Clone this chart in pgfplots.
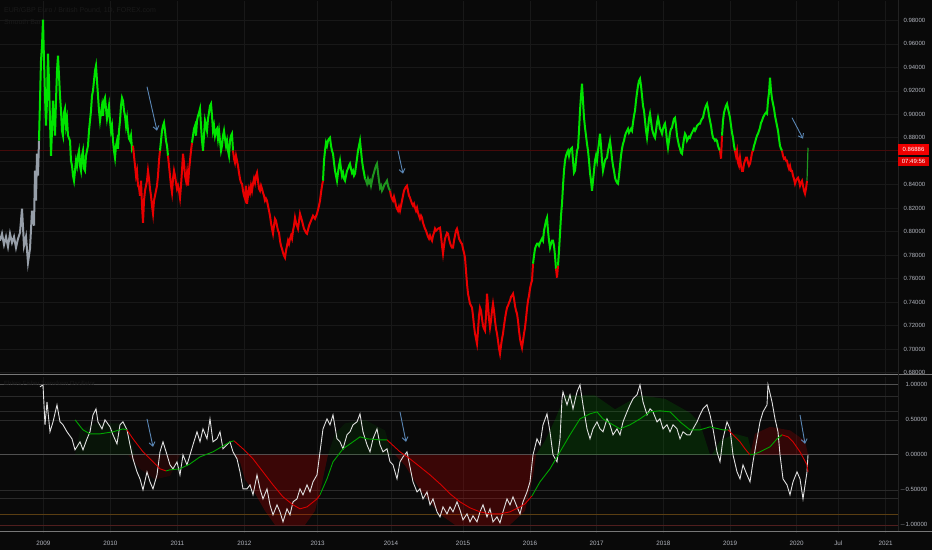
\documentclass[border=0pt]{standalone}
\usepackage{pgfplots}
\pgfplotsset{compat=1.18}
\usetikzlibrary{arrows.meta}
\usepackage{fontspec}
\setmainfont{Liberation Sans}
\definecolor{bgc}{RGB}{9,9,9}
\definecolor{gridc}{RGB}{24,24,24}
\definecolor{lab}{RGB}{178,181,190}
\definecolor{pgreen}{RGB}{0,228,0}
\definecolor{dgreen}{RGB}{30,150,30}
\definecolor{pred}{RGB}{232,0,0}
\definecolor{pgray}{RGB}{150,158,168}
\definecolor{arrowc}{RGB}{90,134,181}
\definecolor{sepc}{RGB}{120,120,120}
\definecolor{lvl}{RGB}{42,42,42}
\definecolor{lvl0}{RGB}{80,80,80}
\definecolor{lvlo}{RGB}{90,62,18}
\definecolor{lvlr}{RGB}{80,30,30}
\definecolor{titc}{RGB}{26,26,26}
\definecolor{pricel}{RGB}{70,10,10}
\definecolor{oscw}{RGB}{225,225,225}
\definecolor{mag}{RGB}{0,165,0}
\definecolor{mar}{RGB}{215,0,0}
\definecolor{scalebd}{RGB}{34,34,34}
\definecolor{boxr1}{RGB}{240,0,0}
\definecolor{boxr2}{RGB}{225,0,0}
\begin{document}
\begin{tikzpicture}[x=1pt,y=1pt]
\fill[bgc] (0,0) rectangle (932,550);
% ===== top panel =====
\begin{axis}[
  at={(0,149.8)}, anchor=south west,
  width=898pt, height=373.5pt, scale only axis,
  xmin=0, xmax=898, ymin=0.6785, ymax=0.9968,
  axis line style={draw=none}, tick style={draw=none},
  xtick={43.3,110.3,177.3,244.3,317.7,391,463,530,596.7,663.3,730,796.7,838.3,885.7},
  xticklabels={},
  ytick={0.68,0.70,0.72,0.74,0.76,0.78,0.80,0.82,0.84,0.86,0.88,0.90,0.92,0.94,0.96,0.98},
  yticklabels={0.68000,0.70000,0.72000,0.74000,0.76000,0.78000,0.80000,0.82000,0.84000,0.86000,0.88000,0.90000,0.92000,0.94000,0.96000,0.98000},
  yticklabel pos=right,
  yticklabel style={font=\fontsize{6}{7}\selectfont, text=lab, anchor=west, xshift=2pt},
  grid=major, grid style={gridc, line width=0.6pt},
]
\draw[pricel, line width=0.7pt] (axis cs:0,0.8689) -- (axis cs:898,0.8689);
\addplot[pgray, line width=2pt] coordinates {(0,0.7923)(2,0.7983)(4,0.7889)(6,0.7957)(8,0.7872)(10,0.7983)(12,0.7906)(14,0.7957)(16,0.7863)(18,0.7940)(20,0.7991)(22,0.8196)(24,0.7880)(26,0.7957)(28,0.7736)(30,0.7855)(32,0.8179)(34,0.8051)(35,0.8519)(36,0.8264)(37,0.8664)(38,0.8477)(39,0.8775)};
\addplot[pgreen, line width=2pt] coordinates {(39,0.8775)(40,0.9116)(41,0.9457)(42,0.9584)(43,0.9806)(44,0.9457)(45,0.9158)(46,0.8903)(47,0.9116)(48,0.9516)(49,0.9286)(50,0.8945)(51,0.8647)(52,0.8860)(53,0.9116)(54,0.8988)(55,0.8818)(56,0.9116)(57,0.9371)(58,0.9499)(59,0.9329)(60,0.9158)(61,0.9031)(62,0.8860)(63,0.8818)(64,0.9014)(65,0.9048)(66,0.8903)(67,0.8962)(68,0.8818)(70,0.8775)(71,0.8605)(72,0.8562)(73,0.8477)(74,0.8434)(75,0.8519)(76,0.8605)(77,0.8562)(78,0.8647)(79,0.8690)(80,0.8562)(81,0.8519)(82,0.8647)(83,0.8690)(84,0.8536)(85,0.8519)(86,0.8647)(88,0.8732)(89,0.8860)(90,0.8945)(91,0.9031)(92,0.9158)(93,0.9201)(94,0.9286)(95,0.9371)(96,0.9414)(97,0.9286)(98,0.9158)(99,0.9031)(100,0.8945)(101,0.9014)(102,0.9073)(103,0.8988)(104,0.9116)(105,0.9141)(106,0.9048)(107,0.8962)(108,0.9014)(109,0.9073)(110,0.8945)(111,0.8860)(112,0.8903)(113,0.8775)(114,0.8690)(115,0.8630)(116,0.8732)(117,0.8775)(118,0.8707)(119,0.8860)(120,0.8945)(121,0.9073)(122,0.9141)(123,0.9116)(124,0.9031)(125,0.8988)(126,0.8903)(127,0.8962)(128,0.8860)(129,0.8792)(130,0.8775)(131,0.8818)(132,0.8707)(133,0.8732)};
\addplot[pred, line width=2pt] coordinates {(133,0.8732)(134,0.8647)(135,0.8562)(136,0.8477)(137,0.8519)(138,0.8392)(139,0.8375)(140,0.8306)(141,0.8434)(142,0.8221)(143,0.8076)(144,0.8264)(145,0.8349)(146,0.8392)(147,0.8434)(148,0.8519)(149,0.8451)(150,0.8366)(151,0.8306)(152,0.8221)(153,0.8153)(154,0.8264)(155,0.8306)(156,0.8349)(157,0.8392)(158,0.8477)(159,0.8605)(160,0.8690)};
\addplot[pgreen, line width=2pt] coordinates {(160,0.8690)(161,0.8775)(162,0.8860)(163,0.8903)(164,0.8928)(165,0.8860)(166,0.8775)(167,0.8732)(168,0.8647)};
\addplot[pred, line width=2pt] coordinates {(168,0.8647)(169,0.8562)(170,0.8477)(171,0.8392)(172,0.8332)(173,0.8451)(174,0.8519)(175,0.8477)(176,0.8417)(177,0.8366)(178,0.8392)(179,0.8349)(180,0.8289)(181,0.8392)(182,0.8519)(183,0.8664)(184,0.8588)(185,0.8477)(186,0.8434)(187,0.8502)(188,0.8392)(189,0.8519)(190,0.8605)(191,0.8690)(192,0.8758)};
\addplot[pgreen, line width=2pt] coordinates {(192,0.8758)(193,0.8818)(194,0.8877)(195,0.8903)(196,0.8818)(197,0.8945)(198,0.8988)(199,0.9014)(200,0.9048)(201,0.8903)(202,0.8775)(203,0.8690)(204,0.8818)(205,0.8945)(206,0.8903)(207,0.8860)(208,0.8962)(209,0.9014)(210,0.9073)(211,0.9090)(212,0.8988)(213,0.8860)(214,0.8903)(215,0.8818)(216,0.8860)(217,0.8877)(218,0.8792)(219,0.8860)(220,0.8775)(221,0.8690)(222,0.8732)(223,0.8818)(224,0.8860)(225,0.8792)(226,0.8732)(227,0.8775)(228,0.8690)(229,0.8647)(230,0.8775)(231,0.8818)(232,0.8835)(233,0.8690)};
\addplot[pred, line width=2pt] coordinates {(233,0.8690)(234,0.8622)(235,0.8588)(236,0.8647)(237,0.8605)(238,0.8562)(239,0.8502)(240,0.8451)(241,0.8417)(242,0.8409)(243,0.8349)(244,0.8306)(245,0.8281)(246,0.8392)(247,0.8238)(248,0.8306)(249,0.8366)(250,0.8332)(251,0.8392)(252,0.8349)(253,0.8409)(254,0.8451)(255,0.8417)(256,0.8477)(257,0.8502)(258,0.8434)(259,0.8366)(260,0.8349)(261,0.8392)(262,0.8366)(263,0.8332)(264,0.8306)(265,0.8264)(266,0.8281)(267,0.8264)(268,0.8221)(269,0.8179)(270,0.8136)(271,0.8076)(272,0.8025)(273,0.7983)(274,0.8051)(275,0.8110)(276,0.8093)(277,0.8051)(278,0.8008)(279,0.7991)(280,0.7923)(281,0.7880)(282,0.7855)(283,0.7821)(284,0.7795)(285,0.7778)(286,0.7838)(287,0.7880)(288,0.7923)(289,0.7897)(290,0.7940)(291,0.7966)(292,0.7940)(293,0.8008)(294,0.8051)(295,0.8119)(296,0.8076)(298,0.8025)(300,0.8153)(302,0.8093)(304,0.8025)(306,0.7991)(307,0.7983)(309,0.8051)(311,0.8093)(313,0.8136)(315,0.8110)(317,0.8153)(319,0.8221)(320,0.8264)(321,0.8332)(322,0.8392)(323,0.8434)};
\addplot[pgreen, line width=2pt] coordinates {(323,0.8434)(324,0.8605)(325,0.8690)(326,0.8758)(327,0.8732)(328,0.8775)(329,0.8792)(330,0.8801)(331,0.8732)(332,0.8690)(333,0.8664)(334,0.8588)(335,0.8519)(336,0.8477)(337,0.8434)(338,0.8502)(339,0.8562)(340,0.8605)(341,0.8536)(342,0.8477)(343,0.8502)(344,0.8451)(345,0.8434)(346,0.8477)(347,0.8519)(348,0.8536)(349,0.8562)(350,0.8579)(351,0.8536)(352,0.8502)(353,0.8519)(354,0.8477)(355,0.8494)(356,0.8562)(357,0.8622)(358,0.8690)(359,0.8732)(360,0.8775)(361,0.8690)(362,0.8605)(363,0.8545)(364,0.8502)(365,0.8451)};
\addplot[dgreen, line width=2pt] coordinates {(365,0.8451)(366,0.8434)(367,0.8409)(368,0.8451)(369,0.8417)(370,0.8434)(371,0.8392)(372,0.8434)(373,0.8477)(374,0.8502)(375,0.8536)(376,0.8562)(377,0.8579)(378,0.8502)(379,0.8434)(380,0.8375)(381,0.8392)(382,0.8349)(383,0.8366)(384,0.8392)(385,0.8409)(386,0.8417)(387,0.8434)(388,0.8392)(389,0.8366)(390,0.8349)};
\addplot[pred, line width=2pt] coordinates {(390,0.8349)(391,0.8306)(392,0.8281)(393,0.8264)(394,0.8298)(395,0.8264)(396,0.8221)(397,0.8196)(398,0.8179)(399,0.8213)(400,0.8179)(401,0.8221)(402,0.8264)(403,0.8306)(404,0.8349)(405,0.8366)(406,0.8383)(407,0.8392)(408,0.8349)(409,0.8306)(410,0.8289)(411,0.8264)(412,0.8238)(413,0.8221)(414,0.8238)(415,0.8204)(416,0.8179)(417,0.8204)(418,0.8162)(419,0.8136)(420,0.8110)(421,0.8136)(422,0.8119)(423,0.8076)(424,0.8051)(425,0.8025)(426,0.8008)(427,0.7983)(428,0.7957)(429,0.7940)(430,0.7966)(431,0.7940)(432,0.7923)(433,0.7966)(434,0.7991)(435,0.8025)(436,0.8008)(438,0.8025)(440,0.8034)(441,0.7966)(442,0.7880)(443,0.7812)(444,0.7880)(445,0.7940)(446,0.7966)(447,0.7991)(448,0.7983)(449,0.7940)(450,0.7906)(451,0.7880)(452,0.7863)(453,0.7863)(454,0.7923)(455,0.7966)(456,0.8008)(457,0.8025)(458,0.7991)(459,0.7940)(460,0.7923)(461,0.7906)(462,0.7897)(463,0.7855)(464,0.7821)(465,0.7778)(466,0.7667)(467,0.7557)(468,0.7471)(469,0.7429)(470,0.7386)(471,0.7369)(472,0.7352)(473,0.7284)(474,0.7199)(475,0.7131)(476,0.7088)(477,0.7045)(478,0.7156)(479,0.7284)(480,0.7352)(481,0.7327)(482,0.7258)(483,0.7199)(484,0.7173)(485,0.7156)(486,0.7284)(487,0.7471)(488,0.7369)(489,0.7258)(490,0.7182)(491,0.7241)(492,0.7327)(493,0.7386)(494,0.7327)(495,0.7241)(496,0.7173)(497,0.7131)(498,0.7071)(499,0.7003)(500,0.6960)(501,0.7028)(502,0.7088)(503,0.7131)(504,0.7199)(505,0.7258)(506,0.7310)(507,0.7352)(508,0.7369)(509,0.7395)(510,0.7412)(511,0.7446)(512,0.7454)(513,0.7471)(514,0.7429)(515,0.7369)(516,0.7327)(517,0.7301)(518,0.7241)(519,0.7156)(520,0.7088)(521,0.7045)(522,0.7011)(523,0.7071)(524,0.7131)(525,0.7182)(526,0.7258)(527,0.7344)(528,0.7412)(529,0.7454)(530,0.7514)(531,0.7557)(532,0.7582)(533,0.7727)};
\addplot[pgreen, line width=2pt] coordinates {(533,0.7727)(534,0.7795)(535,0.7855)(536,0.7880)(537,0.7897)(538,0.7897)(539,0.7880)(540,0.7906)(541,0.7923)(542,0.7940)(543,0.7923)(544,0.8008)(545,0.8051)(546,0.8093)(547,0.8119)(548,0.8008)(549,0.7923)(550,0.7863)(551,0.7897)(552,0.7923)(553,0.7923)(554,0.7880)(555,0.7795)(556,0.7684)};
\addplot[pred, line width=2pt] coordinates {(556,0.7684)(557,0.7608)(558,0.7710)};
\addplot[pgreen, line width=2pt] coordinates {(558,0.7710)(559,0.7838)(560,0.7983)(561,0.8136)(562,0.8238)(563,0.8392)(564,0.8519)(565,0.8605)(566,0.8647)(567,0.8673)(568,0.8690)(569,0.8647)(570,0.8690)(571,0.8707)(572,0.8715)(573,0.8605)(574,0.8502)(575,0.8519)(576,0.8605)(577,0.8690)(578,0.8715)(579,0.8860)(580,0.9031)(581,0.9158)(582,0.9261)(583,0.9116)(584,0.8971)(585,0.8886)(586,0.8818)(587,0.8749)(588,0.8690)(589,0.8605)(590,0.8502)(591,0.8434)(592,0.8349)(593,0.8434)(594,0.8519)(595,0.8605)(596,0.8647)(597,0.8605)(598,0.8690)(599,0.8758)(600,0.8835)(601,0.8732)(602,0.8605)(603,0.8519)(604,0.8562)(605,0.8605)(606,0.8622)(607,0.8630)(608,0.8690)(609,0.8732)(610,0.8775)(611,0.8707)(612,0.8622)(613,0.8562)(614,0.8519)(615,0.8460)(616,0.8434)(617,0.8417)(618,0.8409)(619,0.8477)(620,0.8562)(621,0.8647)(622,0.8707)(623,0.8749)(624,0.8775)(625,0.8818)(626,0.8843)(627,0.8860)(628,0.8877)(629,0.8843)(630,0.8860)(631,0.8877)(632,0.8860)(633,0.8928)(634,0.8988)(635,0.9031)(636,0.9116)(637,0.9184)(638,0.9244)(639,0.9286)(640,0.9303)(641,0.9244)(642,0.9158)(643,0.9073)(644,0.9031)(645,0.8945)(646,0.8860)(647,0.8801)(648,0.8877)(649,0.8962)(650,0.9005)(651,0.8945)(652,0.8877)(653,0.8843)(654,0.8818)(655,0.8801)(656,0.8860)(657,0.8928)(658,0.8971)(659,0.8928)(660,0.8877)(661,0.8860)(662,0.8835)(663,0.8877)(664,0.8903)(665,0.8920)(666,0.8860)(667,0.8775)(668,0.8715)(669,0.8775)(670,0.8843)(671,0.8877)(672,0.8886)(673,0.8928)(674,0.8962)(675,0.8971)(676,0.8903)(677,0.8818)(678,0.8775)(679,0.8732)(680,0.8707)(681,0.8673)(682,0.8664)(683,0.8732)(684,0.8792)(685,0.8835)(686,0.8818)(687,0.8775)(688,0.8792)(689,0.8809)(690,0.8801)(691,0.8826)(692,0.8843)(693,0.8860)(694,0.8877)(695,0.8860)(696,0.8877)(697,0.8903)(698,0.8911)(699,0.8920)(700,0.8920)(701,0.8945)(702,0.8962)(703,0.8971)(704,0.9014)(705,0.9048)(706,0.9073)(707,0.9090)(708,0.9048)(709,0.8988)(710,0.8945)(711,0.8903)(712,0.8843)(713,0.8801)(714,0.8792)(715,0.8775)(716,0.8784)(717,0.8775)(718,0.8732)(719,0.8707)(720,0.8690)};
\addplot[pred, line width=2pt] coordinates {(720,0.8690)(721,0.8622)(722,0.8818)};
\addplot[pgreen, line width=2pt] coordinates {(722,0.8818)(723,0.8945)(724,0.9014)(726,0.9073)(727,0.9090)(728,0.9048)(730,0.8971)(731,0.8903)(732,0.8843)(733,0.8801)(734,0.8732)(735,0.8690)};
\addplot[pred, line width=2pt] coordinates {(735,0.8690)(736,0.8647)(737,0.8690)(738,0.8588)(739,0.8562)(740,0.8630)(741,0.8562)(742,0.8519)(743,0.8519)(744,0.8579)(745,0.8605)(746,0.8630)(747,0.8630)(748,0.8588)(749,0.8562)(750,0.8579)(751,0.8622)(752,0.8673)(753,0.8690)};
\addplot[pgreen, line width=2pt] coordinates {(753,0.8690)(754,0.8732)(755,0.8758)(756,0.8792)(757,0.8818)(758,0.8835)(759,0.8860)(760,0.8886)(761,0.8928)(762,0.8945)(763,0.8971)(764,0.8988)(765,0.9005)(766,0.9014)(767,0.9005)(768,0.9116)(769,0.9184)(770,0.9312)(771,0.9201)(772,0.9133)(773,0.9090)(774,0.9048)(775,0.8988)(776,0.8945)(777,0.8903)(778,0.8860)(779,0.8792)(780,0.8732)(781,0.8707)(782,0.8690)};
\addplot[pred, line width=2pt] coordinates {(782,0.8690)(783,0.8647)(784,0.8622)(785,0.8630)(786,0.8605)(787,0.8605)(788,0.8562)(789,0.8536)(790,0.8562)(791,0.8519)(792,0.8519)(793,0.8477)(794,0.8451)(795,0.8409)(796,0.8434)(797,0.8451)(798,0.8460)(799,0.8434)(800,0.8392)(801,0.8417)(802,0.8434)(803,0.8392)(804,0.8349)(805,0.8323)(806,0.8366)(807,0.8434)};
\addplot[dgreen, line width=1.2pt] coordinates {(807,0.8434)(808,0.8715)};
\draw[arrowc, line width=0.9pt, -{Straight Barb[length=4pt,width=6pt]}] (axis cs:147,0.9235) -- (axis cs:157,0.8860);
\draw[arrowc, line width=0.9pt, -{Straight Barb[length=4pt,width=6pt]}] (axis cs:398,0.8690) -- (axis cs:403,0.8494);
\draw[arrowc, line width=0.9pt, -{Straight Barb[length=4pt,width=6pt]}] (axis cs:792,0.8971) -- (axis cs:803,0.8792);
\end{axis}
% ===== bottom panel =====
\begin{axis}[
  at={(0,24.5)}, anchor=south west,
  width=898pt, height=156pt, scale only axis,
  xmin=0, xmax=898, ymin=-1.114, ymax=1.114,
  axis line style={draw=none}, tick style={draw=none},
  xtick={43.3,110.3,177.3,244.3,317.7,391,463,530,596.7,663.3,730,796.7,838.3,885.7},
  xticklabels={2009,2010,2011,2012,2013,2014,2015,2016,2017,2018,2019,2020,Jul,2021},
  xticklabel style={font=\fontsize{6.3}{7}\selectfont, text=lab, anchor=center, yshift=-10.7pt},
  ytick={-1,-0.5,0,0.5,1},
  yticklabels={\llap{$-$}1.00000,\llap{$-$}0.50000,0.00000,0.50000,1.00000},
  yticklabel pos=right,
  yticklabel style={font=\fontsize{6}{7}\selectfont, text=lab, anchor=west, xshift=4pt},
  xmajorgrids, x grid style={gridc, line width=0.6pt},
]
\draw[lvl0, line width=0.7pt] (axis cs:0,1) -- (axis cs:898,1);
\draw[lvl, line width=0.6pt] (axis cs:0,0.84) -- (axis cs:898,0.84);
\draw[lvl, line width=0.6pt] (axis cs:0,0.62) -- (axis cs:898,0.62);
\draw[lvl, line width=0.6pt] (axis cs:0,0.5) -- (axis cs:898,0.5);
\draw[lvl0, line width=0.7pt] (axis cs:0,0) -- (axis cs:898,0);
\draw[lvl, line width=0.6pt] (axis cs:0,-0.5) -- (axis cs:898,-0.5);
\draw[lvl, line width=0.6pt] (axis cs:0,-0.62) -- (axis cs:898,-0.62);
\draw[lvlo, line width=0.7pt] (axis cs:0,-0.85) -- (axis cs:898,-0.85);
\draw[lvlr, line width=0.7pt] (axis cs:0,-1) -- (axis cs:898,-1);
\addplot[draw=none, fill=green!60!black, fill opacity=0.08] coordinates {(75,0)(80,0.35)(95,0.45)(125,0.45)(130,0.25)(135,0)};
\addplot[draw=none, fill=red!80!black, fill opacity=0.12] coordinates {(128,0)(140,-0.2)(155,-0.35)(170,-0.3)(180,0)};
\addplot[draw=none, fill=red!85!black, fill opacity=0.24] coordinates {(235,0)(240,-0.1)(245,-0.35)(255,-0.55)(265,-0.8)(275,-1.0)(305,-1.0)(315,-0.8)(322,-0.4)(328,0)};
\addplot[draw=none, fill=green!60!black, fill opacity=0.10] coordinates {(328,0)(335,0.3)(345,0.45)(365,0.5)(385,0.35)(392,0)};
\addplot[draw=none, fill=red!85!black, fill opacity=0.24] coordinates {(395,0)(405,-0.15)(420,-0.5)(440,-0.85)(455,-1.0)(510,-1.0)(525,-0.8)(533,-0.3)(536,0)};
\addplot[draw=none, fill=green!65!black, fill opacity=0.17] coordinates {(536,0)(545,0.2)(555,0.5)(565,0.85)(595,0.85)(615,0.65)(640,0.85)(665,0.8)(690,0.6)(700,0.45)(710,0)};
\addplot[draw=none, fill=green!65!black, fill opacity=0.17] coordinates {(712,0)(720,0.2)(735,0.3)(748,0.25)(752,0)};
\addplot[draw=none, fill=red!85!black, fill opacity=0.2] coordinates {(750,0)(755,0.3)(770,0.4)(790,0.35)(805,0.2)(808,0)};
\addplot[oscw, line width=0.9pt] coordinates {(40,0.971)(43,1.0)(45,0.429)(47,0.757)(50,0.329)(53,0.471)(57,0.714)(60,0.471)(63,0.429)(67,0.329)(72,0.229)(75,0.071)(80,0.186)(83,0.071)(87,0.229)(90,0.329)(93,0.571)(96,0.657)(98,0.471)(102,0.371)(105,0.5)(110,0.4)(113,0.286)(117,0.157)(120,0.429)(123,0.471)(127,0.357)(130,0.143)(133,-0.057)(137,-0.243)(140,-0.343)(143,-0.5)(147,-0.243)(150,-0.386)(153,-0.486)(157,-0.286)(160,0.043)(163,0.186)(167,0)(170,-0.143)(173,-0.2)(177,-0.1)(180,-0.286)(183,0)(187,-0.143)(190,0)(193,0.143)(197,0.329)(200,0.186)(203,0.371)(207,0.229)(210,0.514)(213,0.186)(217,0.229)(220,0.329)(223,0.086)(227,0.143)(230,0.186)(233,0.043)(237,-0.057)(240,-0.243)(243,-0.486)(247,-0.486)(250,-0.429)(253,-0.571)(257,-0.286)(260,-0.486)(263,-0.629)(267,-0.486)(270,-0.714)(273,-0.857)(277,-0.714)(280,-0.814)(283,-0.957)(287,-0.771)(290,-0.857)(293,-0.671)(297,-0.629)(300,-0.486)(303,-0.571)(307,-0.429)(310,-0.529)(313,-0.386)(317,-0.286)(320,0.043)(323,0.371)(327,0.514)(330,0.429)(333,0.571)(337,0.229)(340,0.186)(343,0.086)(347,0.286)(350,0.329)(353,0.429)(357,0.471)(360,0.586)(363,0.329)(367,0.143)(370,0.043)(373,0.229)(377,0.371)(380,0.143)(383,0.043)(387,0.086)(390,-0.1)(393,-0.143)(397,-0.343)(400,-0.1)(403,-0.029)(407,0.043)(410,-0.171)(413,-0.386)(417,-0.529)(420,-0.486)(423,-0.629)(427,-0.529)(430,-0.714)(433,-0.629)(437,-0.814)(440,-0.886)(443,-0.743)(447,-0.843)(450,-0.743)(453,-0.814)(457,-0.671)(460,-0.786)(463,-0.929)(467,-0.843)(470,-0.957)(473,-0.871)(477,-0.957)(480,-0.814)(483,-0.714)(487,-0.886)(490,-0.771)(493,-0.957)(497,-0.886)(500,-0.971)(503,-0.814)(507,-0.629)(510,-0.714)(513,-0.6)(517,-0.743)(520,-0.843)(523,-0.671)(527,-0.529)(530,-0.386)(533,0)(537,0.229)(540,0.143)(543,0.429)(547,0.586)(550,0.329)(553,0)(557,-0.1)(560,0.229)(562,0.8)(563,0.9)(567,0.714)(570,0.857)(573,0.657)(577,0.9)(580,1.0)(583,0.714)(587,0.371)(590,0.229)(593,0.371)(597,0.471)(600,0.371)(603,0.329)(607,0.514)(610,0.429)(613,0.286)(617,0.371)(620,0.286)(623,0.471)(627,0.614)(630,0.714)(633,0.8)(637,0.857)(640,1.0)(643,0.757)(647,0.571)(650,0.657)(653,0.614)(657,0.471)(660,0.514)(663,0.371)(667,0.429)(670,0.329)(673,0.429)(677,0.371)(680,0.229)(683,0.329)(687,0.286)(690,0.286)(693,0.371)(697,0.471)(700,0.571)(703,0.657)(707,0.714)(710,0.571)(713,0.371)(717,0.043)(720,-0.1)(723,0.229)(727,0.471)(730,0.371)(733,0)(737,-0.243)(740,-0.343)(743,-0.143)(747,-0.286)(750,-0.386)(753,-0.1)(757,0.229)(760,0.471)(763,0.614)(767,0.714)(768,1.0)(772,0.757)(775,0.514)(778,0.329)(780,0)(783,-0.343)(787,-0.429)(790,-0.571)(793,-0.386)(797,-0.243)(800,-0.343)(803,-0.629)(807,-0.243)(808,0)};
\addplot[mag, line width=0.9pt] coordinates {(75,0.5)(83,0.357)(90,0.3)(100,0.3)(113,0.329)(123,0.371)(127,0.357)};
\addplot[mar, line width=0.9pt] coordinates {(127,0.357)(133,0.229)(143,0.043)(153,-0.1)(160,-0.2)(166,-0.229)};
\addplot[mag, line width=0.9pt] coordinates {(166,-0.229)(170,-0.214)(180,-0.2)(190,-0.129)(200,-0.029)(213,0.043)(230,0.186)(234,0.2)};
\addplot[mar, line width=0.9pt] coordinates {(234,0.2)(243,0.086)(253,-0.057)(263,-0.243)(273,-0.429)(283,-0.6)(293,-0.714)(300,-0.771)(307,-0.743)(317,-0.629)(320,-0.571)};
\addplot[mag, line width=0.9pt] coordinates {(320,-0.571)(327,-0.343)(333,-0.1)(343,0.086)(353,0.186)(360,0.257)(367,0.229)(380,0.214)(387,0.214)};
\addplot[mar, line width=0.9pt] coordinates {(387,0.214)(400,0.043)(410,-0.057)(420,-0.171)(430,-0.286)(440,-0.414)(450,-0.557)(460,-0.671)(470,-0.757)(480,-0.814)(490,-0.843)(500,-0.843)(510,-0.814)(520,-0.743)(525,-0.7)(532,-0.586)};
\addplot[mag, line width=0.9pt] coordinates {(532,-0.586)(540,-0.386)(550,-0.2)(560,0.043)(570,0.286)(580,0.514)(590,0.586)(597,0.614)(603,0.514)(613,0.429)(620,0.371)(630,0.429)(640,0.514)(650,0.614)(660,0.629)(670,0.614)(680,0.471)(690,0.357)(700,0.357)(710,0.4)(723,0.357)(728,0.357)};
\addplot[mar, line width=0.9pt] coordinates {(728,0.357)(735,0.257)(740,0.186)(745,0.086)(750,0)};
\addplot[mag, line width=0.9pt] coordinates {(750,0)(755,0.014)(760,0.043)(770,0.114)(777,0.229)(782,0.286)};
\addplot[mar, line width=0.9pt] coordinates {(782,0.286)(788,0.257)(793,0.186)(800,0.043)(807,-0.143)(808,-0.243)};
\draw[arrowc, line width=0.9pt, -{Straight Barb[length=4pt,width=6pt]}] (axis cs:147,0.514) -- (axis cs:153,0.114);
\draw[arrowc, line width=0.9pt, -{Straight Barb[length=4pt,width=6pt]}] (axis cs:400,0.614) -- (axis cs:406,0.186);
\draw[arrowc, line width=0.9pt, -{Straight Barb[length=4pt,width=6pt]}] (axis cs:800,0.571) -- (axis cs:805,0.157);
\end{axis}
\draw[sepc, line width=1.3pt] (0,175.6) -- (932,175.6);
\draw[sepc, line width=1.0pt] (0,19) -- (932,19);
\draw[scalebd, line width=0.6pt] (898,19) -- (898,550);
\fill[boxr1] (898,395) rectangle (929,406);
\node[text=white, font=\fontsize{6}{7}\selectfont, inner sep=0] at (913.5,400.5) {0.86886};
\fill[boxr2] (898,384.3) rectangle (929,393.3);
\node[text=white, font=\fontsize{6}{7}\selectfont, inner sep=0] at (913.5,388.8) {07:49:56};
\node[anchor=west, text=titc, font=\fontsize{7}{8}\selectfont, inner sep=0] at (4,540) {EUR/GBP Euro / British Pound, 1D, FOREX.com};
\node[anchor=west, text=titc, font=\fontsize{7}{8}\selectfont, inner sep=0] at (4,528) {Smooth Bar};
\node[anchor=west, text=titc, font=\fontsize{6}{7}\selectfont, inner sep=0] at (4,167) {Ehlers Fisher Transform Oscillator};
\pgfresetboundingbox
\useasboundingbox (0,0) rectangle (932,550);
\end{tikzpicture}
\end{document}
